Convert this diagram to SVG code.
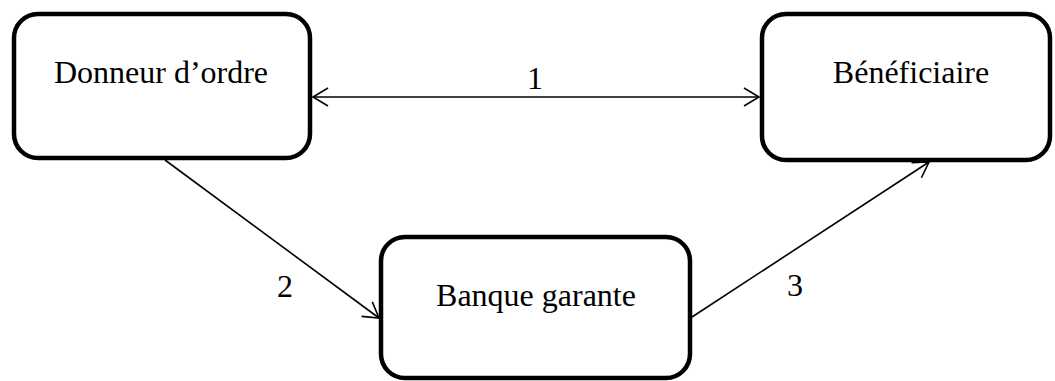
<svg xmlns="http://www.w3.org/2000/svg" width="1055" height="381" viewBox="0 0 1055 381">
  <defs>
    <!-- open V arrowhead, ~17px long, 30° half-angle -->
    <marker id="arrow" viewBox="0 0 20 24" refX="17.5" refY="12" markerWidth="20" markerHeight="24" markerUnits="userSpaceOnUse" orient="auto-start-reverse">
      <path d="M2.5,3 L17.5,12 L2.5,21" fill="none" stroke="#000" stroke-width="1.6"/>
    </marker>
    <style>
      .box { fill: #fff; stroke: #000; stroke-width: 4.5; }
      .label { font-family: "Liberation Serif", "Times New Roman", serif; font-size: 32px; fill: #000; text-anchor: middle; }
      .edge { fill: none; stroke: #000; stroke-width: 1.6; }
    </style>
  </defs>
  <rect width="1055" height="381" fill="#fff"/>

  <g id="connectors">
    <line class="edge" x1="313" y1="97" x2="759" y2="97" marker-start="url(#arrow)" marker-end="url(#arrow)"/>
    <line class="edge" x1="165" y1="160" x2="379" y2="318" marker-end="url(#arrow)"/>
    <line class="edge" x1="692" y1="317" x2="929" y2="162" marker-end="url(#arrow)"/>
    <text class="label" x="535" y="89">1</text>
    <text class="label" x="285" y="297">2</text>
    <text class="label" x="795" y="296">3</text>
  </g>

  <g id="donneur">
    <rect class="box" x="14" y="14" width="296" height="144" rx="24"/>
    <text class="label" x="161" y="83">Donneur d’ordre</text>
  </g>

  <g id="beneficiaire">
    <rect class="box" x="762" y="14" width="288" height="146" rx="24"/>
    <text class="label" x="911" y="83">Bénéficiaire</text>
  </g>

  <g id="banque">
    <rect class="box" x="381" y="237" width="309" height="141" rx="24"/>
    <text class="label" x="536" y="306">Banque garante</text>
  </g>
</svg>
